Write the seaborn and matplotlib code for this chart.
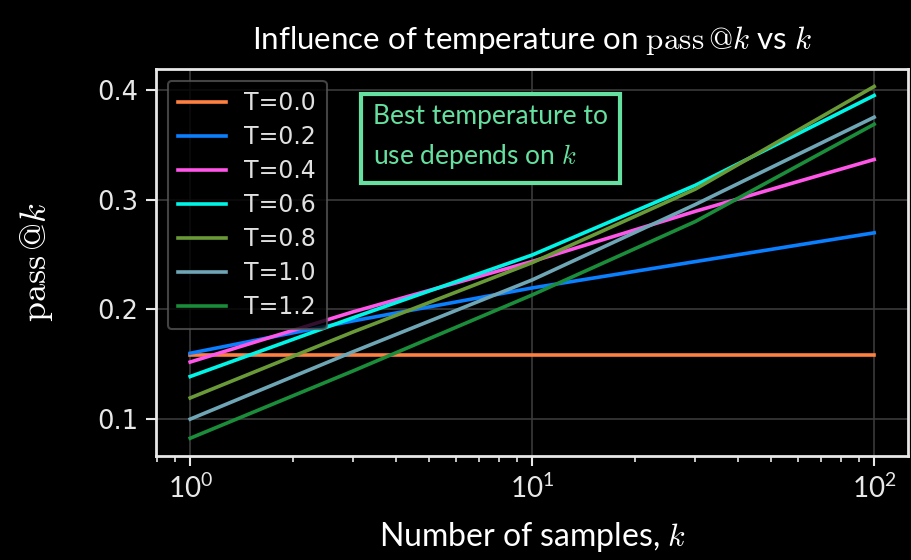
import matplotlib
matplotlib.use("Agg")
import matplotlib.pyplot as plt
import seaborn as sns
import pandas as pd

k_values = [1, 3, 10, 30, 100]
labels = ["T=0.0", "T=0.2", "T=0.4", "T=0.6", "T=0.8", "T=1.0", "T=1.2"]
t00 = [0.158, 0.158, 0.158, 0.158, 0.158]
t02 = [0.160, 0.1895, 0.2195, 0.2435, 0.2697]
t04 = [0.152, 0.1978, 0.2436, 0.2893, 0.3365]
t06 = [0.1388, 0.1925, 0.2495, 0.3130, 0.3948]
t08 = [0.1193, 0.1795, 0.2425, 0.3095, 0.403]
t10 = [0.100, 0.1615, 0.2268, 0.2955, 0.375]
t12 = [0.0826, 0.1440, 0.2131, 0.2800, 0.3686]
colors = ["#ff8040", "#0a7fff", "#ff55e8", "#00f5e6", "#6a9a38", "#6fa6b6", "#1a8c3a"]

series = [t00, t02, t04, t06, t08, t10, t12]
rows = []
for lab, vals in zip(labels, series):
    for k, v in zip(k_values, vals):
        rows.append({"k": k, "pass": v, "T": lab})
df = pd.DataFrame(rows)

plt.style.use("dark_background")
plt.rcParams["mathtext.fontset"] = "cm"
plt.rcParams["font.family"] = ["DejaVu Sans"]
TF = ["Lato", "DejaVu Sans"]

fig = plt.figure(figsize=(9.12, 5.6), dpi=100, facecolor="black")
ax = fig.add_axes([0.171, 0.186, 0.825, 0.691])
ax.set_facecolor("black")

sns.lineplot(data=df, x="k", y="pass", hue="T", palette=colors, hue_order=labels,
             linewidth=2.6, ax=ax, legend=True)
ax.set_xscale("log")

ax.grid(True, which="major", color="#3a3a3a", linewidth=1.2)
ax.set_axisbelow(True)
for s in ax.spines.values():
    s.set_color("#e8e8e8")
    s.set_linewidth(2)
ax.tick_params(axis="both", which="major", colors="#e8e8e8", length=7, width=1.5,
               labelsize=18.5, direction="out", pad=6)
ax.tick_params(axis="x", which="minor", colors="#e8e8e8", length=4, width=1.2)
ax.set_yticks([0.1, 0.2, 0.3, 0.4])
for lab in ax.get_xticklabels():
    lab.set_fontfamily(TF)
    lab.set_fontsize(20)

ax.set_xlabel("Number of samples, $k$", fontsize=23, family=TF, color="white", labelpad=12)
ax.set_ylabel(r"$\mathrm{pass}\,@k$", fontsize=26, color="white", labelpad=30)
ax.set_title(r"Influence of temperature on $\mathrm{pass}\,@k$ vs $k$", fontsize=22.5,
             family=TF, color="white", pad=14)

leg = ax.legend(loc="upper left", fontsize=17, facecolor="black", edgecolor="#555555",
                framealpha=0.8, handlelength=2.0, borderpad=0.45, labelspacing=0.42,
                bbox_to_anchor=(0.0, 1.0))
leg.get_frame().set_linewidth(1.5)
for t in leg.get_texts():
    t.set_color("#e0e0e0")

ax.text(0.288, 0.822, "Best temperature to\nuse depends on $k$", transform=ax.transAxes,
        fontsize=19, family=TF, color="#66e0a0", va="center", ha="left", linespacing=1.6,
        bbox=dict(boxstyle="square,pad=0.45", facecolor="black", edgecolor="#66e0a0",
                  linewidth=3))

fig.savefig("out.png", dpi=100, facecolor="black")
